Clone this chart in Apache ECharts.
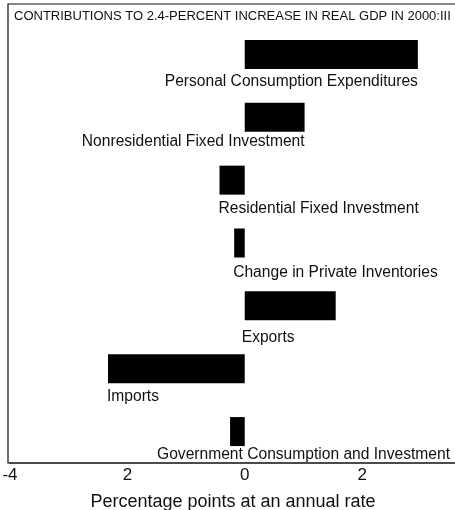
<!DOCTYPE html>
<html>
<head>
<meta charset="utf-8">
<script src="https://cdn.jsdelivr.net/npm/echarts@6/dist/echarts.min.js"></script>
<style>
  html, body { margin: 0; padding: 0; background: #fff; }
  #chart { width: 455px; height: 510px; }
</style>
</head>
<body>
<div id="chart"></div>
<script>
// 数据
const categories = [
  'Personal Consumption Expenditures',
  'Nonresidential Fixed Investment',
  'Residential Fixed Investment',
  'Change in Private Inventories',
  'Exports',
  'Imports',
  'Government Consumption and Investment'
]
const contributions = [2.95, 1.02, -0.43, -0.18, 1.55, -2.33, -0.25]
const tickLabels = { '-4': '-4', '-2': '2', '0': '0', '2': '2' }

// 每个标签放在柱子下方，左对齐或右对齐
const labelSide = ['right', 'right', 'left', 'left', 'left', 'left', 'left']
const labelShiftX = [0, 0, -1, -1, -3, -1, -73]
const labelShiftY = [5, 2, 6, 7.5, 9, 5, 1]

const chart = echarts.init(document.getElementById('chart'))

const seriesData = contributions.map((v, i) => ({
  value: v,
  label: {
    show: true,
    position: [labelSide[i] === 'right' ? '100%' : '0%', '100%'],
    align: labelSide[i],
    verticalAlign: 'top',
    offset: [labelShiftX[i], labelShiftY[i]]
  }
}))

chart.setOption({
  animation: false,
  backgroundColor: '#fff',
  title: {
    text: 'CONTRIBUTIONS TO 2.4-PERCENT INCREASE IN REAL GDP IN 2000:III',
    left: 14,
    top: 10,
    padding: 0,
    textStyle: {
      fontFamily: '"Liberation Sans Narrow", "Liberation Sans", Arial, sans-serif',
      fontSize: 13,
      fontWeight: 'normal',
      color: '#111'
    }
  },
  grid: {
    left: 10,
    top: 23,
    width: 446,
    height: 440,
    outerBoundsMode: 'none',
    containLabel: false
  },
  xAxis: {
    type: 'value',
    min: -4,
    max: 3.6,
    interval: 2,
    name: 'Percentage points at an annual rate',
    nameLocation: 'middle',
    nameGap: 30,
    nameTextStyle: {
      fontFamily: '"Liberation Sans", Arial, sans-serif',
      fontSize: 18,
      color: '#111'
    },
    axisLine: { show: true, lineStyle: { color: '#111', width: 1.5 } },
    axisTick: { show: false },
    splitLine: { show: false },
    axisLabel: {
      margin: 4,
      fontFamily: '"Liberation Sans", Arial, sans-serif',
      fontSize: 17,
      color: '#111',
      formatter: v => tickLabels[String(v)] ?? ''
    }
  },
  yAxis: {
    type: 'category',
    inverse: true,
    data: categories,
    axisLine: { show: false },
    axisTick: { show: false },
    axisLabel: { show: false },
    splitLine: { show: false }
  },
  graphic: [
    {
      type: 'polyline',
      shape: { points: [[11, 463], [8, 463], [8, 4], [455, 4]] },
      style: { stroke: '#111', lineWidth: 1.2, fill: null }
    }
  ],
  series: [
    {
      type: 'bar',
      data: seriesData,
      barWidth: 29,
      itemStyle: { color: '#000' },
      label: {
        fontFamily: '"Liberation Sans", Arial, sans-serif',
        fontSize: 15.6,
        color: '#111',
        formatter: p => categories[p.dataIndex]
      }
    }
  ]
})
</script>
</body>
</html>
